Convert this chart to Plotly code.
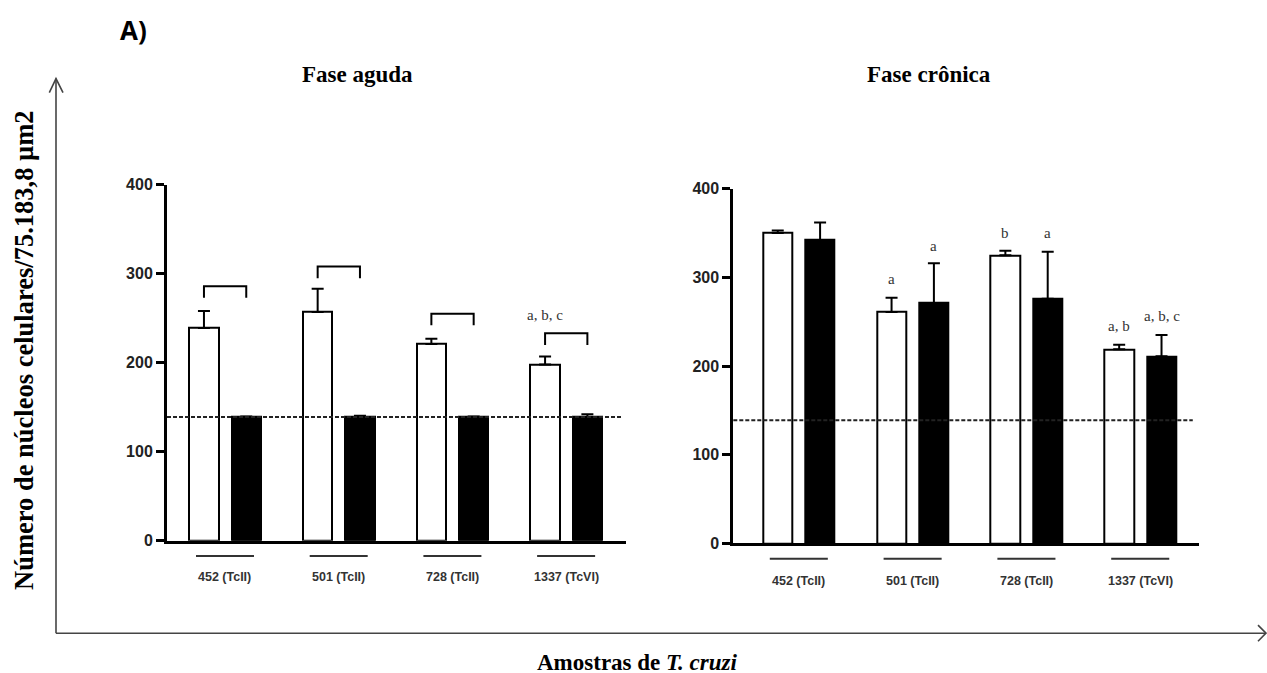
import plotly.graph_objects as go

# ---------------- data ----------------
categories = ["452 (TcII)", "501 (TcII)", "728 (TcII)", "1337 (TcVI)"]

# Fase aguda
acute_white = [239, 257, 221, 198]
acute_white_err = [258, 283, 227, 207]
acute_black = [139, 139.5, 139, 139]
acute_black_err = [139.5, 140.5, 139.5, 142]
acute_bracket_top = [286, 308, 255, 233]
acute_labels_white = ["", "", "", "a, b, c"]
acute_labels_white_y = [0, 0, 0, 254]

# Fase crônica
chronic_white = [350, 261, 325, 219]
chronic_white_err = [353, 277, 330, 224]
chronic_black = [342, 271, 276, 211]
chronic_black_err = [362, 316, 329, 235]
chronic_labels_white = ["", "a", "b", "a, b"]
chronic_labels_white_y = [0, 298, 350, 245]
chronic_labels_black = ["", "a", "a", "a, b, c"]
chronic_labels_black_y = [0, 335, 350, 256]

reference_level = 139
y_ticks = [0, 100, 200, 300, 400]

# ---------------- layout helpers ----------------
W = 1267
H_FIG = 682
Y_SCALE = 0.974
Y_SHIFT = 8.5
def px(x):
    return x / W
def py(y):
    return 1 - ((y - Y_SHIFT) / Y_SCALE) / H_FIG

SERIF = "Liberation Serif, Times New Roman, serif"
SANS = "Liberation Sans, Arial, sans-serif"

WHITE_OFF = -0.185
BLACK_OFF = 0.187
BAR_W = 0.258
xs = list(range(len(categories)))

fig = go.Figure()

def add_panel(white, white_err, black, black_err, xa, ya):
    fig.add_trace(go.Bar(
        x=xs, y=white, width=BAR_W, offset=WHITE_OFF - BAR_W / 2,
        marker=dict(color="white", line=dict(color="black", width=2)),
        error_y=dict(type="data", symmetric=False,
                     array=[e - v for e, v in zip(white_err, white)],
                     arrayminus=[0] * len(white), thickness=2, width=6, color="black"),
        xaxis=xa, yaxis=ya, showlegend=False, hoverinfo="skip"))
    fig.add_trace(go.Bar(
        x=xs, y=black, width=BAR_W, offset=BLACK_OFF - BAR_W / 2,
        marker=dict(color="black", line=dict(color="black", width=2)),
        error_y=dict(type="data", symmetric=False,
                     array=[e - v for e, v in zip(black_err, black)],
                     arrayminus=[0] * len(black), thickness=2, width=6, color="black"),
        xaxis=xa, yaxis=ya, showlegend=False, hoverinfo="skip"))

add_panel(acute_white, acute_white_err, acute_black, acute_black_err, "x", "y")
add_panel(chronic_white, chronic_white_err, chronic_black, chronic_black_err, "x2", "y2")

yaxis_common = dict(range=[0, 400], tickvals=y_ticks, showline=True, linewidth=3,
                    linecolor="black", ticks="outside", ticklen=8, tickwidth=3,
                    tickcolor="black", showgrid=False, zeroline=False,
                    tickfont=dict(family=SANS, size=16, color="#222", weight="bold"))
xaxis_common = dict(showline=True, linewidth=3, linecolor="black", showticklabels=False,
                    ticks="", showgrid=False, zeroline=False)

fig.update_layout(
    width=W, height=H_FIG, autosize=False,
    margin=dict(l=0, r=0, t=0, b=0),
    paper_bgcolor="white", plot_bgcolor="white",
    bargap=0,
    xaxis=dict(domain=[px(167), px(625.7)], range=[-0.51, 3.524], anchor="y", **xaxis_common),
    yaxis=dict(domain=[py(540.7), py(185)], anchor="x", **yaxis_common),
    xaxis2=dict(domain=[px(733.3), px(1199.3)], range=[-0.5756, 3.519], anchor="y2", **xaxis_common),
    yaxis2=dict(domain=[py(543.3), py(189)], anchor="x2", **yaxis_common),
)

shapes = []
annotations = []

# reference dashed lines
for xa, ya, x1 in [("x", "y", 0.99), ("x2", "y2", 0.986)]:
    shapes.append(dict(type="line", xref=f"{xa} domain", yref=ya, x0=0, x1=x1,
                       y0=reference_level, y1=reference_level, layer="above",
                       line=dict(color="#222", width=2, dash="4px,2px")))

# brackets in the acute panel
for i, top in enumerate(acute_bracket_top):
    xa0 = i + WHITE_OFF
    xa1 = i + BLACK_OFF
    shapes.append(dict(type="path", xref="x", yref="y",
                       path=f"M {xa0},{top - 13} L {xa0},{top} L {xa1},{top} L {xa1},{top - 13}",
                       line=dict(color="black", width=2)))

# category underlines and labels
for xa, yline, ylab in [("x", 556, 576.7), ("x2", 558.7, 580.7)]:
    for i, cat in enumerate(categories):
        shapes.append(dict(type="line", xref=xa, yref="paper", x0=i - 0.255, x1=i + 0.255,
                           y0=py(yline), y1=py(yline), line=dict(color="#333", width=2)))
        annotations.append(dict(text=f"<b>{cat}</b>", xref=xa, yref="paper", x=i, y=py(ylab),
                                showarrow=False, xanchor="center", yanchor="middle",
                                font=dict(family=SANS, size=12.5, color="#333")))

# significance letters
def letters(labels, ys, offset, xa, ya):
    for i, (t, yv) in enumerate(zip(labels, ys)):
        if t:
            annotations.append(dict(text=t, xref=xa, yref=ya, x=i + offset, y=yv,
                                    showarrow=False, xanchor="center", yanchor="middle",
                                    font=dict(family=SERIF, size=15, color="#333")))

letters(acute_labels_white, acute_labels_white_y, WHITE_OFF, "x", "y")
letters(chronic_labels_white, chronic_labels_white_y, WHITE_OFF, "x2", "y2")
letters(chronic_labels_black, chronic_labels_black_y, BLACK_OFF, "x2", "y2")

# panel titles
annotations.append(dict(text="<b>Fase aguda</b>", xref="paper", yref="paper", x=px(357.7), y=py(75),
                        showarrow=False, xanchor="center", yanchor="middle",
                        font=dict(family=SERIF, size=23, color="black")))
annotations.append(dict(text="<b>Fase crônica</b>", xref="paper", yref="paper", x=px(928.8), y=py(75),
                        showarrow=False, xanchor="center", yanchor="middle",
                        font=dict(family=SERIF, size=23, color="black")))
annotations.append(dict(text="<b>A)</b>", xref="paper", yref="paper", x=px(133), y=py(30),
                        showarrow=False, xanchor="center", yanchor="middle",
                        font=dict(family="Open Sans, sans-serif", size=26, color="black")))

# outer axis titles
annotations.append(dict(text="<b>Número de núcleos celulares/75.183,8 µm2</b>", xref="paper", yref="paper",
                        x=px(24), y=py(351), textangle=-90, showarrow=False,
                        xanchor="center", yanchor="middle",
                        font=dict(family=SERIF, size=26.5, color="black")))
annotations.append(dict(text="<b>Amostras de <i>T. cruzi</i></b>", xref="paper", yref="paper",
                        x=px(637), y=py(662), showarrow=False,
                        xanchor="center", yanchor="middle",
                        font=dict(family=SERIF, size=23, color="black")))

# outer arrows (frame)
frame = dict(color="#444", width=1.6)
shapes.append(dict(type="line", xref="paper", yref="paper", x0=px(56), x1=px(56),
                   y0=py(633), y1=py(79), line=frame))
shapes.append(dict(type="line", xref="paper", yref="paper", x0=px(56), x1=px(1266),
                   y0=py(633), y1=py(633), line=frame))
shapes.append(dict(type="path", xref="paper", yref="paper",
                   path=f"M {px(49.3)},{py(93)} L {px(56)},{py(79)} L {px(63)},{py(93)}", line=frame))
shapes.append(dict(type="path", xref="paper", yref="paper",
                   path=f"M {px(1258)},{py(625)} L {px(1266)},{py(633)} L {px(1258)},{py(641)}", line=frame))

fig.update_layout(shapes=shapes, annotations=annotations)

fig.write_html(
    "out.html",
    config={"displayModeBar": False},
    post_script="document.body.style.margin='0';document.body.style.overflow='hidden';",
)
